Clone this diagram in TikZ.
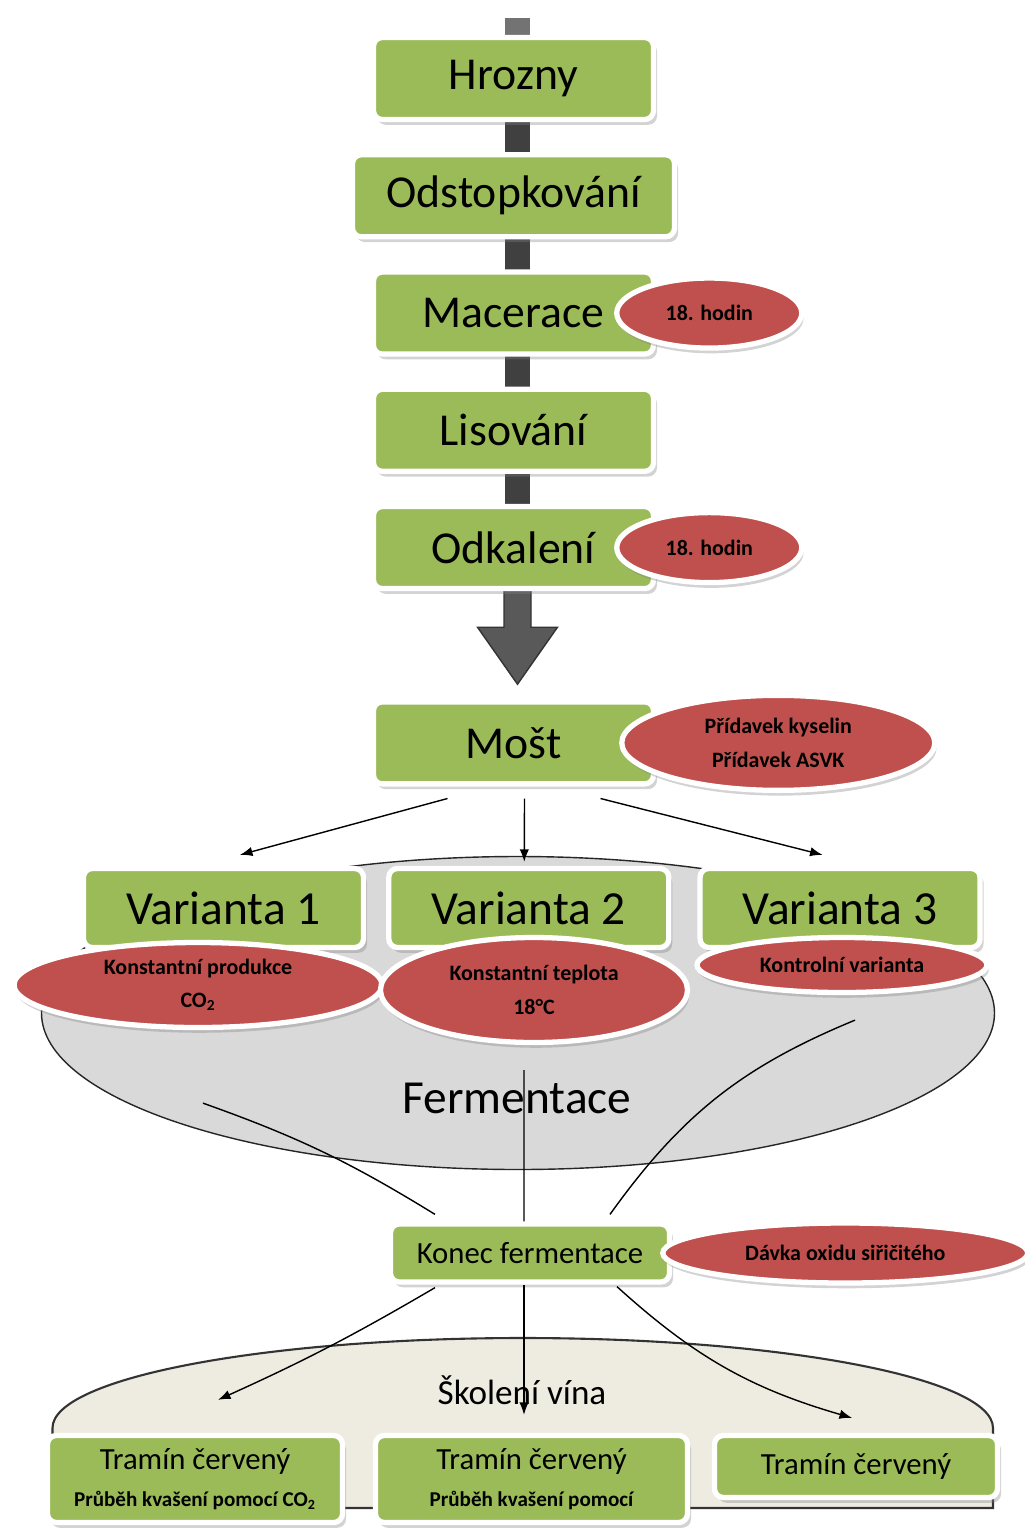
\documentclass[tikz,border=0pt]{standalone}
\usepackage{fontspec}
\setmainfont{Carlito}
\usetikzlibrary{arrows.meta, positioning, shapes.geometric, shadows, backgrounds}

\definecolor{stagegreen}{HTML}{9BBB59}
\definecolor{notered}{HTML}{C0504D}
\definecolor{fermgray}{HTML}{D9D9D9}
\definecolor{agebeige}{HTML}{EEECE1}
\definecolor{spinegray}{HTML}{404040}

\begin{document}
\begin{tikzpicture}[
  node distance=0.6cm,
  stage/.style={rectangle, rounded corners=5pt, fill=stagegreen, draw=white, line width=3pt, inner sep=0pt, minimum width=5.6cm, minimum height=1.64cm, drop shadow={shadow xshift=2pt, shadow yshift=-3pt, opacity=0.35}, font=\fontsize{26}{30}\selectfont},
  variant/.style={stage, minimum width=5.6cm, minimum height=1.58cm, font=\fontsize{27}{30}\selectfont},
  product/.style={stage, align=center, font=\fontsize{17.5}{21}\selectfont},
  note/.style={ellipse, fill=notered, draw=white, line width=3pt, inner sep=0pt, align=center, drop shadow={shadow xshift=1pt, shadow yshift=-3pt, opacity=0.35}, font=\bfseries\fontsize{12.5}{19}\selectfont},
  group/.style={ellipse, fill=fermgray, draw=black!85, line width=0.8pt},
  age/.style={fill=agebeige, draw=black!80, line width=1.2pt},
  spine/.style={draw=spinegray, line width=0.5cm},
  bigarrow/.style={fill=black!65, draw=black!80, line width=0.8pt},
  arrow/.style={-{Latex[length=2.5mm]}, thick},
  link/.style={thick}
]
\useasboundingbox (0,0) rectangle (20.5,-30.56);

\node[stage] (hroz) at (10.27,-1.57) {Hrozny};
\node[stage, below=of hroz, minimum width=6.44cm] (odst) {Odstopkování};
\node[stage, below=of odst] (mac) {Macerace};
\node[stage, below=of mac] (lis) {Lisování};
\node[stage, below=of lis] (odk) {Odkalení};
\node[stage, below=2.16cm of odk] (most) {Mošt};

\node[note, right=-0.84cm of mac, minimum width=3.7cm, minimum height=1.4cm] (macnote) {18. hodin};
\node[note, right=-0.84cm of odk, minimum width=3.7cm, minimum height=1.4cm] (odknote) {18. hodin};
\node[note, right=-0.74cm of most, minimum width=6.26cm, minimum height=1.9cm] (mostnote) {Přídavek kyselin\\Přídavek ASVK};

\begin{pgfonlayer}{background}
\draw[spine, draw=black!55] ([xshift=0.08cm, yshift=0.34cm]hroz.north) -- ([xshift=0.08cm]hroz.north);
\draw[spine] ([xshift=0.08cm]hroz.south) -- ([xshift=0.08cm]odk.south);
\filldraw[bigarrow] ([xshift=0.08cm, yshift=0.05cm]odk.south) ++(-0.27,0) -- ++(0,-0.77) -- ++(-0.53,0) -- ++(0.8,-1.14) -- ++(0.8,1.14) -- ++(-0.53,0) -- ++(0,0.77) -- cycle;
\end{pgfonlayer}

\node[group, minimum width=19.06cm, minimum height=6.26cm] (ferm) at (10.36,-20.26) {};
\node[font=\fontsize{27}{30}\selectfont] (fermtext) at (10.34,-21.96) {Fermentace};
\node[variant] (var1) at (4.47,-18.16) {Varianta 1};
\node[variant, right=0.4cm of var1] (var2) {Varianta 2};
\node[variant, right=0.52cm of var2] (var3) {Varianta 3};
\node[note, minimum width=7.36cm, minimum height=1.7cm] (var1note) at (3.96,-19.7) {Konstantní produkce\\CO\textsubscript{2}};
\node[note, minimum width=6.14cm, minimum height=2.1cm] (var2note) at (10.68,-19.8) {Konstantní teplota\\18°C};
\node[note, minimum width=5.8cm, minimum height=1.1cm] (var3note) at (16.84,-19.3) {Kontrolní varianta};

\node[stage, minimum width=5.58cm, minimum height=1.16cm, font=\fontsize{17.5}{21}\selectfont] (konec) at (10.6,-25.06) {Konec fermentace};
\node[note, right=-0.24cm of konec, minimum width=7.3cm, minimum height=1.2cm] (konecnote) {Dávka oxidu siřičitého};

\filldraw[age] (19.86,-30.16) -- (19.86,-28.56) arc[start angle=0, end angle=180, x radius=9.405cm, y radius=1.8cm] -- (1.05,-30.16) -- cycle;
\node[font=\fontsize{20}{24}\selectfont] (agetext) at (10.44,-27.8) {Školení vína};

\node[product, minimum width=5.9cm, minimum height=1.74cm] (tram1) at (3.9,-29.58) {Tramín červený\\{\bfseries\fontsize{12}{21}\selectfont Průběh kvašení pomocí CO\textsubscript{2}}};
\node[product, minimum width=6.24cm, minimum height=1.74cm] (tram2) at (10.63,-29.58) {Tramín červený\\{\bfseries\fontsize{12}{21}\selectfont Průběh kvašení pomocí}};
\node[product, minimum width=5.66cm, minimum height=1.24cm] (tram3) at (17.12,-29.33) {Tramín červený};

\draw[arrow] ([xshift=-1.32cm, yshift=-0.24cm]most.south) -- ([xshift=0.33cm, yshift=0.22cm]var1.north);
\draw[arrow] ([xshift=0.22cm, yshift=-0.24cm]most.south) -- ([xshift=-0.09cm, yshift=0.08cm]var2.north);
\draw[arrow] ([xshift=1.74cm, yshift=-0.24cm]most.south) -- ([xshift=-0.35cm, yshift=0.22cm]var3.north);

\draw[link] ([xshift=0.1cm, yshift=-1.46cm]var1note.south) to[bend left=6] ([xshift=-1.9cm, yshift=0.14cm]konec.north);
\draw[link] ([xshift=-0.2cm, yshift=-0.5cm]var2note.south) -- ([xshift=-0.12cm]konec.north);
\draw[link] ([xshift=0.26cm, yshift=-0.5cm]var3note.south) to[bend right=16] ([xshift=1.6cm, yshift=0.14cm]konec.north);

\draw[arrow] ([xshift=-1.9cm, yshift=-0.06cm]konec.south) to[bend left=3] ([xshift=0.46cm, yshift=0.66cm]tram1.north);
\draw[arrow] ([xshift=-0.12cm]konec.south) -- ([xshift=-0.15cm, yshift=0.36cm]tram2.north);
\draw[arrow] ([xshift=1.74cm, yshift=-0.04cm]konec.south) to[bend right=13] ([xshift=-0.08cm, yshift=0.3cm]tram3.north);
\end{tikzpicture}
\end{document}
